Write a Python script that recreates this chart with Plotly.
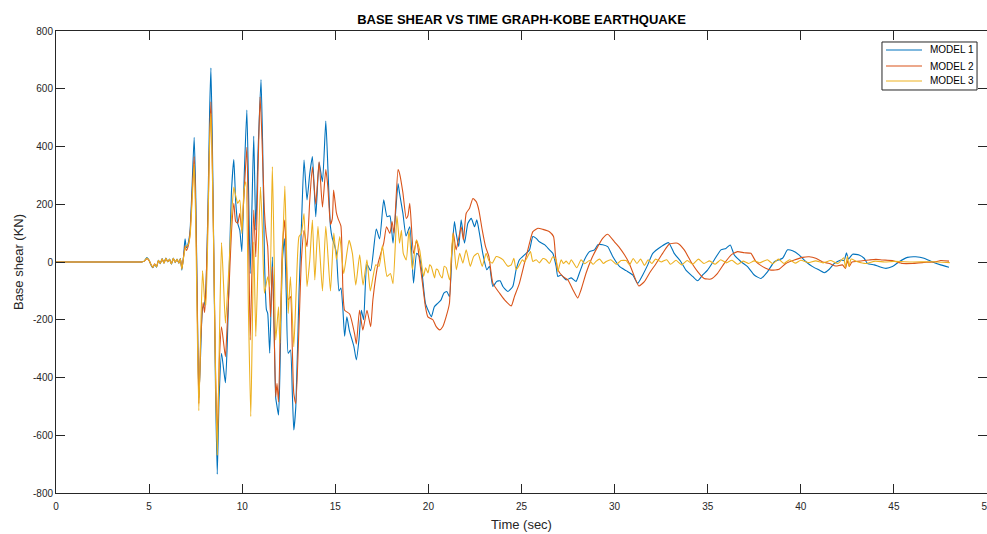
import plotly.graph_objects as go

# Base shear response (kN) of the three building models under the Kobe record
t_model1 = [0, 4.5, 4.6, 4.75, 4.88, 5.0, 5.1, 5.2, 5.3, 5.4, 5.5, 5.6, 5.7, 5.8, 5.9, 6.0, 6.1, 6.2, 6.3, 6.4,
            6.5, 6.6, 6.68, 6.76, 6.85, 6.93, 7.0, 7.1, 7.2, 7.3, 7.42, 7.5, 7.58, 7.67, 7.76, 7.87, 7.95, 8.05,
            8.17, 8.25, 8.32, 8.4, 8.48, 8.57, 8.66, 8.76, 8.89, 9.0, 9.1, 9.2, 9.3, 9.42, 9.55, 9.65, 9.76, 9.87,
            9.98, 10.12, 10.25, 10.35, 10.43, 10.52, 10.62, 10.73, 10.85, 11.01, 11.1, 11.2, 11.3, 11.37, 11.48,
            11.62, 11.72, 11.8, 11.87, 11.95, 12.02, 12.16, 12.27, 12.37, 12.47, 12.59, 12.69, 12.77, 12.88, 13.05,
            13.18, 13.32, 13.48, 13.63, 13.77, 13.95, 14.13, 14.31, 14.49, 14.6, 14.74, 14.84, 14.95, 15.06, 15.2,
            15.3, 15.4, 15.5, 15.62, 15.75, 16.0, 16.13, 16.27, 16.4, 16.52, 16.7, 16.9, 17.2, 17.38, 17.6, 17.78,
            17.93, 18.1, 18.37, 18.45, 18.63, 18.8, 19.0, 19.2, 19.37, 19.52, 19.66, 19.84, 20.02, 20.16, 20.32,
            20.5, 20.68, 20.83, 20.99, 21.13, 21.28, 21.4, 21.49, 21.63, 21.76, 21.94, 22.12, 22.3, 22.48, 22.6,
            22.74, 22.92, 23.14, 23.28, 23.46, 23.67, 23.85, 24.0, 24.27, 24.53, 24.71, 24.89, 25.07, 25.25, 25.43,
            25.61, 25.79, 25.96, 26.24, 26.5, 26.68, 26.86, 26.95, 27.13, 27.4, 27.67, 27.93, 28.11, 28.38, 28.65,
            28.92, 29.1, 29.36, 29.63, 29.9, 30.26, 30.62, 30.97, 31.24, 31.51, 31.78, 32.05, 32.49, 32.9, 33.2,
            33.56, 33.83, 34.19, 34.46, 34.73, 34.99, 35.35, 35.71, 35.98, 36.21, 36.43, 36.79, 37.14, 37.5, 37.86,
            38.22, 38.58, 39.02, 39.29, 39.56, 39.92, 40.28, 40.63, 40.99, 41.26, 41.53, 41.8, 42.15, 42.33, 42.45,
            42.56, 42.78, 43.13, 43.4, 43.58, 43.94, 44.21, 44.57, 44.92, 45.28, 45.73, 46.17, 46.62, 47.07, 47.51,
            47.96]
v_model1 = [0, 0, 0, 4, 15, 6, -10, -20, -8, -18, 6, -6, 12, -4, 14, 0, 10, -8, 14, -2,
            10, -4, 12, -28, 20, 80, 50, 65, 110, 250, 432, 250, -100, -470, -330, -160, -150, -90,
            220, 520, 672, 400, 0, -450, -735, -470, -316, -370, -418, -280, -40, 240, 355, 210, 134, 110,
            36, 320, 526, 220, -40, 180, 436, 111, 380, 632, 400, 0, -165, -178, -316,
            18, -250, -470, -500, -530, -400, 7, 80, -120, -316, -305, -450, -582, -500, -108,
            122, 353, 215, 307, 365, 157, 345, 278, 488, 330, 122, 82, 60, 30, -100,
            -90, -155, -257, -190, -236, -293, -339, -270, -167, -200, -8, -30, 114, 80, 215, 157,
            160, 65, 272, 238, 169, 90, 122, -73, 30, 19, -38, -143, -172, -190, -155,
            -143, -131, -108, -102, -120, 53, 140, 100, 53, 146, 65, 134, 151, 122, 146,
            100, 30, -27, -15, -85, -67, -65, -85, -102, -85, -27, 8, 19, 30, 42,
            88, 82, 70, 60, 42, 30, -15, -50, -45, -62, -55, -67, -38, 8, 36,
            42, 60, 60, 53, 19, -15, -30, -45, -74, -45, -10, 30, 53, 67, 30,
            1, -28, -50, -65, -45, -28, 7, 42, 47, 59, 24, 1, -16, -45, -57,
            -33, 1, 13, 42, 39, 24, 1, -16, -28, -37, -25, -5, 7, 5, 32,
            10, 27, 24, 13, -5, -10, -16, -22, -16, 1, 16, 18, 13, 0, -10,
            -18]

t_model2 = [0, 4.5, 4.6, 4.75, 4.88, 5.0, 5.1, 5.2, 5.3, 5.4, 5.5, 5.6, 5.7, 5.8, 5.9, 6.0, 6.1, 6.2, 6.3, 6.4,
            6.5, 6.6, 6.68, 6.76, 6.85, 6.93, 7.0, 7.1, 7.2, 7.3, 7.42, 7.5, 7.58, 7.67, 7.78, 7.9, 7.98, 8.05,
            8.17, 8.25, 8.32, 8.4, 8.48, 8.57, 8.66, 8.78, 8.89, 9.0, 9.1, 9.2, 9.28, 9.42, 9.55, 9.65, 9.76, 9.87,
            9.98, 10.12, 10.25, 10.35, 10.43, 10.52, 10.62, 10.73, 10.85, 10.96, 11.05, 11.19, 11.28, 11.37, 11.52,
            11.62, 11.72, 11.8, 11.87, 11.95, 12.05, 12.16, 12.29, 12.38, 12.47, 12.59, 12.69, 12.77, 12.88, 13.05,
            13.18, 13.32, 13.48, 13.63, 13.77, 13.95, 14.13, 14.31, 14.49, 14.6, 14.74, 14.84, 14.91, 15.06, 15.15,
            15.3, 15.41, 15.5, 15.77, 16.04, 16.13, 16.3, 16.48, 16.7, 16.9, 17.02, 17.3, 17.6, 17.75, 17.93, 18.05,
            18.15, 18.37, 18.45, 18.63, 18.81, 18.9, 19.0, 19.2, 19.37, 19.52, 19.66, 19.84, 19.97, 20.24, 20.42,
            20.6, 20.77, 20.95, 21.13, 21.22, 21.34, 21.49, 21.76, 21.88, 22.03, 22.21, 22.39, 22.57, 22.71, 22.89,
            23.07, 23.25, 23.46, 23.82, 24.09, 24.45, 24.62, 24.89, 25.16, 25.43, 25.61, 25.88, 26.15, 26.5, 26.72,
            26.83, 26.95, 27.22, 27.49, 27.76, 28.02, 28.2, 28.47, 28.74, 29.0, 29.36, 29.63, 29.99, 30.26, 30.53,
            30.79, 31.06, 31.3, 31.6, 31.87, 32.23, 32.58, 32.94, 33.38, 33.74, 34.1, 34.46, 34.81, 35.17, 35.53,
            35.89, 36.25, 36.6, 36.96, 37.32, 37.59, 37.95, 38.4, 38.84, 39.2, 39.65, 40.1, 40.45, 40.8, 41.17,
            41.53, 41.88, 42.24, 42.4, 42.5, 42.6, 42.75, 43.04, 43.4, 43.67, 44.03, 44.39, 44.92, 45.46, 46.0,
            46.53, 47.25, 47.51, 47.96]
v_model2 = [0, 0, 0, 3, 12, 5, -8, -18, -6, -16, 5, -4, 10, -3, 12, 2, 8, -6, 12, 0,
            8, -3, 10, -22, 18, 55, 40, 55, 100, 220, 365, 200, -120, -490, -260, -140, -175, -100,
            180, 430, 555, 330, 0, -380, -610, -330, -224, -280, -328, -210, -110, 100, 203, 140, 134, 168,
            110, 260, 397, 60, -270, -40, 180, 18, 320, 572, 450, 180, 99, 53, -190,
            -16, -250, -466, -420, -485, -220, 53, 145, -20, -131, -120, -300, -455, -490, -224,
            7, 110, 53, 215, 330, 200, 347, 190, 320, 260, 130, 150, 249, 170, 150,
            125, -100, -167, -180, -250, -284, -167, -236, -167, -224, -130, -4, 65, 122, 99, 140,
            100, 320, 307, 240, 151, 160, 203, 30, 76, 7, -62, -155, -190, -200, -224,
            -235, -224, -190, -143, -4, 100, 42, 122, 76, 169, 186, 220, 209, 180, 111,
            53, 19, -73, -108, -131, -152, -120, -73, -4, 65, 105, 117, 113, 105, 88,
            19, -27, -50, -62, -96, -125, -96, -38, 8, 42, 82, 96, 70, 50, 25,
            -5, -50, -83, -68, -39, -5, 30, 62, 65, 42, 1, -33, -57, -59, -39,
            -5, 24, 36, 32, 30, 1, -16, -28, -25, -5, 7, 16, 18, 13, 0,
            -5, -14, -10, -22, 5, -15, 0, 2, 5, 7, 9, 7, 5, -5, -5,
            -2, 1, 5, 3]

t_model3 = [0, 4.5, 4.6, 4.75, 4.88, 5.0, 5.1, 5.2, 5.3, 5.4, 5.5, 5.6, 5.7, 5.8, 5.9, 6.0, 6.1, 6.2, 6.3, 6.4,
            6.5, 6.6, 6.68, 6.76, 6.85, 6.93, 7.0, 7.1, 7.2, 7.3, 7.42, 7.5, 7.58, 7.67, 7.77, 7.87, 7.97, 8.05,
            8.17, 8.25, 8.32, 8.4, 8.48, 8.57, 8.66, 8.78, 8.89, 9.0, 9.1, 9.28, 9.42, 9.55, 9.65, 9.76, 9.87, 9.98,
            10.1, 10.2, 10.33, 10.46, 10.55, 10.62, 10.73, 10.85, 10.98, 11.08, 11.19, 11.28, 11.37, 11.48, 11.62,
            11.72, 11.8, 11.95, 12.02, 12.15, 12.29, 12.38, 12.47, 12.59, 12.77, 12.9, 13.05, 13.18, 13.32, 13.48,
            13.63, 13.77, 13.9, 14.07, 14.31, 14.49, 14.74, 14.92, 15.06, 15.24, 15.45, 15.74, 15.92, 16.1, 16.31,
            16.49, 16.7, 16.88, 17.17, 17.35, 17.53, 17.78, 17.96, 18.1, 18.31, 18.45, 18.55, 18.65, 18.81, 18.96,
            19.14, 19.35, 19.53, 19.74, 19.85, 19.98, 20.07, 20.15, 20.33, 20.42, 20.51, 20.62, 20.74, 20.85, 20.96,
            21.14, 21.32, 21.5, 21.68, 21.85, 22.03, 22.25, 22.43, 22.66, 22.89, 23.1, 23.25, 23.43, 23.64, 23.82,
            24.0, 24.27, 24.45, 24.59, 24.71, 24.89, 25.05, 25.16, 25.3, 25.48, 25.61, 25.79, 25.96, 26.15, 26.32,
            26.5, 26.68, 26.86, 26.95, 27.13, 27.25, 27.4, 27.55, 27.67, 27.97, 28.2, 28.4, 28.65, 28.85, 29.0,
            29.2, 29.4, 29.55, 29.8, 30.09, 30.35, 30.62, 30.8, 31.0, 31.2, 31.4, 31.6, 31.8, 32.0, 32.2, 32.5,
            32.8, 33.0, 33.3, 33.6, 33.9, 34.2, 34.5, 34.8, 35.1, 35.4, 35.7, 36.0, 36.3, 36.6, 36.9, 37.2, 37.5,
            37.8, 38.2, 38.5, 38.8, 39.1, 39.4, 39.7, 40.0, 40.4, 40.8, 41.2, 41.6, 42.0, 42.3, 42.4, 42.5, 42.6,
            42.7, 43.0, 43.5, 44.0, 44.5, 45.0, 46.0, 47.0, 48.0]
v_model3 = [0, 0, 0, 4, 14, 6, -9, -19, -7, -17, 6, -5, 11, -4, 13, 1, 9, -7, 13, -1,
            9, -4, 11, -25, 15, 45, 55, 60, 90, 200, 340, 150, -200, -515, -250, -30, -120, -150,
            150, 420, 515, 300, 0, -400, -668, -250, 67, -80, -212, -28, 150, 260, 230, 203, 215, 99,
            250, 278, -150, -535, -200, 70, -258, 0, 260, 120, -108, -80, -51, -85, 330,
            0, -270, -155, -282, 0, 263, 40, -178, -51, -293, -100, 88, 99, 168, -85,
            7, 145, -62, 124, -100, 124, -100, 100, 8, 88, -40, 75, 29, -80, 25,
            -80, 8, -100, -10, -15, 56, -50, -40, -75, 160, 65, 110, 30, 7, 111,
            -27, 76, 42, -50, -20, -38, -10, -15, -55, -25, -27, -45, -55, -15, -20,
            -62, 100, -27, 30, -4, 42, -15, 19, 30, -15, 30, 5, -4, 19, 16,
            8, -15, -10, 13, -27, -10, 8, 0, 15, 36, 2, 8, -3, 12, 8,
            -5, 18, 8, -33, 8, -5, 3, -8, 8, -20, 8, -6, 5, -8, 2,
            10, -5, 2, 8, -8, 5, 5, -10, 12, -5, 10, -12, 8, -5, 10, 0,
            8, -8, 6, -10, 5, -8, 10, -5, 4, -8, 8, -3, 6, -8, 3, -5, 4,
            -3, 8, -6, 10, -5, 8, -4, 6, -2, 4, -3, 5, -5, 15, -20, 20, -15,
            10, 2, -5, 3, 0, 2, 0, 1, -2]

series_names = ["MODEL 1", "MODEL 2", "MODEL 3"]
series_colors = ["#0072BD", "#D95319", "#EDB120"]

x_ticks = list(range(0, 51, 5))
y_ticks = list(range(-800, 801, 200))

AXIS_COLOR = "#262626"
FONT = "Liberation Sans, Arial, sans-serif"

fig = go.Figure()
for t, v, name, color in zip([t_model1, t_model2, t_model3],
                             [v_model1, v_model2, v_model3],
                             series_names, series_colors):
    fig.add_trace(go.Scatter(x=t, y=v, mode="lines", name=name, showlegend=False,
                             line=dict(color=color, width=1.1, shape="spline", smoothing=0.5)))

axis_common = dict(
    showgrid=False, zeroline=False, showline=True, linecolor=AXIS_COLOR, linewidth=1,
    mirror="ticks", ticks="inside", ticklen=9, tickwidth=1, tickcolor=AXIS_COLOR,
    tickfont=dict(family=FONT, size=10, color=AXIS_COLOR), ticklabeloverflow="allow",
    automargin=False,
)

# Boxed legend in the upper-right corner of the axes (paper coordinates)
legend_box = dict(x0=0.8872, x1=0.9893, y0=0.8723, y1=0.9762)
legend_rows = [0.9589, 0.9242, 0.8918]
sample_x = (0.8915, 0.9302)
label_x = 0.9366

shapes = [dict(type="rect", xref="paper", yref="paper", **legend_box,
               line=dict(color=AXIS_COLOR, width=1), fillcolor="white", layer="above")]
annotations = []
for row_y, name, color in zip(legend_rows, series_names, series_colors):
    shapes.append(dict(type="line", xref="paper", yref="paper",
                       x0=sample_x[0], x1=sample_x[1], y0=row_y, y1=row_y,
                       line=dict(color=color, width=1.1), layer="above"))
    annotations.append(dict(text=name, xref="paper", yref="paper", x=label_x, y=row_y,
                            xanchor="left", yanchor="middle", showarrow=False,
                            font=dict(family=FONT, size=10, color="#000000")))

fig.update_layout(
    width=987, height=534,
    margin=dict(l=56, r=0, t=31, b=41, pad=0, autoexpand=False),
    paper_bgcolor="white", plot_bgcolor="white",
    font=dict(family=FONT, color=AXIS_COLOR),
    title=dict(text="<b>BASE SHEAR VS TIME GRAPH-KOBE EARTHQUAKE</b>",
               x=0.5, xref="paper", xanchor="center",
               y=1 - 19 / 534, yref="container", yanchor="middle",
               font=dict(family=FONT, size=13, color="#000000")),
    xaxis=dict(range=[0, 50], tickvals=x_ticks, ticktext=[str(v) for v in x_ticks],
               ticklabelstandoff=4,
               title=dict(text="Time (sec)", font=dict(family=FONT, size=13, color=AXIS_COLOR), standoff=8),
               **axis_common),
    yaxis=dict(range=[-800, 800], tickvals=y_ticks, ticktext=[str(v) for v in y_ticks],
               title=dict(text="Base shear (KN)", font=dict(family=FONT, size=13, color=AXIS_COLOR), standoff=6),
               **axis_common),
    shapes=shapes,
    annotations=annotations,
    showlegend=False,
)

fig.write_html("out.html")
